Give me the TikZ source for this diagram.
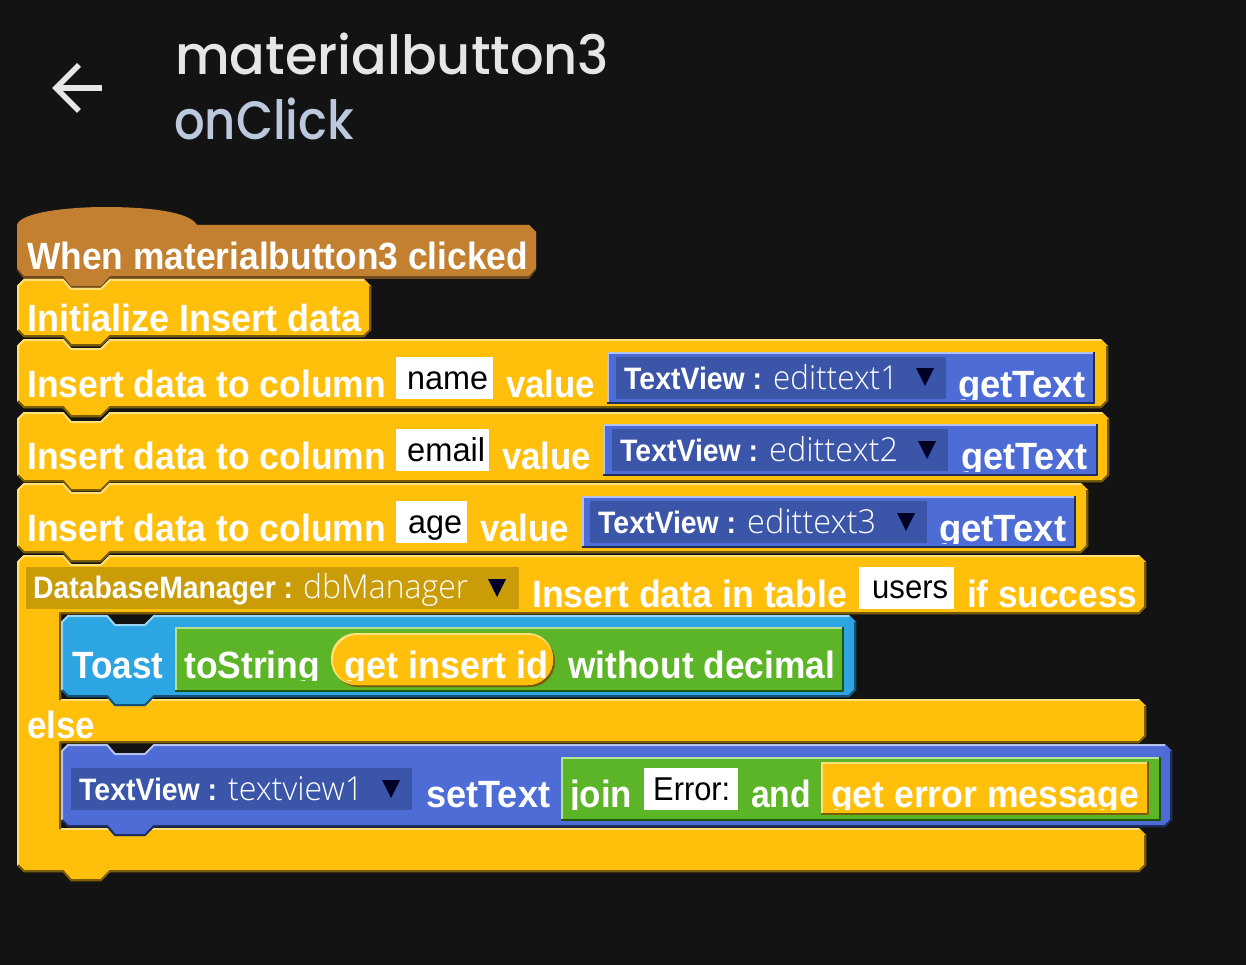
\documentclass[tikz,border=0pt]{standalone}
\usepackage{fontspec}
\setmainfont{Liberation Sans}
\newfontfamily\titlefont{Poppins}[UprightFont=* Medium]
\newfontfamily\thinfont{Open Sans}[UprightFont=* Light]
\definecolor{screenbg}{HTML}{131313}
\definecolor{titlegrey}{HTML}{E6E6E6}
\definecolor{subblue}{HTML}{BCC8DE}
\definecolor{orangefill}{HTML}{FFBF0A}
\definecolor{orangelight}{HTML}{FFE07A}
\definecolor{orangedark}{HTML}{7A5C05}
\definecolor{brownfill}{HTML}{C28030}
\definecolor{brownlight}{HTML}{C28030}
\definecolor{browndark}{HTML}{6E4A1C}
\definecolor{bluefill}{HTML}{4D6CD6}
\definecolor{bluelight}{HTML}{B5C2EE}
\definecolor{bluedark}{HTML}{1E2C5E}
\definecolor{bluedrop}{HTML}{3B55A8}
\definecolor{skyfill}{HTML}{2CA5E2}
\definecolor{skylight}{HTML}{9AD6F3}
\definecolor{skydark}{HTML}{14517A}
\definecolor{greenfill}{HTML}{5CB527}
\definecolor{greenlight}{HTML}{B4E09A}
\definecolor{greendark}{HTML}{1F5410}
\definecolor{golddrop}{HTML}{C99C08}
\tikzset{
  blocktext/.style={anchor=base west,inner sep=0pt,text=white,font=\fontsize{38}{40}\selectfont\bfseries},
  droptext/.style={anchor=base west,inner sep=0pt,text=white,font=\fontsize{31}{34}\selectfont},
  inputtext/.style={anchor=base west,inner sep=0pt,text=black,font=\fontsize{33}{36}\selectfont},
  lightedge/.style={line width=2pt,line join=round},
  darkedge/.style={line width=2pt,line join=round}
}
% palette, x0, y0, x1, y1
\newcommand{\stackblock}[5]{
  \fill[#1fill] ({#2+7},#3) -- ({#2+46},#3) -- ({#2+54},{#3+9}) -- ({#2+84},{#3+9}) -- ({#2+93},#3)
    -- ({#4-7},#3) -- (#4,{#3+7}) -- (#4,{#5-7}) -- ({#4-7},#5)
    -- ({#2+93},#5) -- ({#2+84},{#5+9}) -- ({#2+54},{#5+9}) -- ({#2+46},#5)
    -- ({#2+7},#5) -- (#2,{#5-7}) -- (#2,{#3+7}) -- cycle;
  \draw[#1light,lightedge] ({#2+1},{#5-7}) -- ({#2+1},{#3+7}) -- ({#2+7},{#3+1}) -- ({#2+46},{#3+1})
    -- ({#2+54},{#3+10}) -- ({#2+84},{#3+10}) -- ({#2+93},{#3+1}) -- ({#4-7},{#3+1});
  \draw[#1dark,darkedge] ({#4-1},{#3+7}) -- ({#4-1},{#5-7}) -- ({#4-7},{#5-1}) -- ({#2+93},{#5-1})
    -- ({#2+84},{#5+8}) -- ({#2+54},{#5+8}) -- ({#2+46},{#5-1}) -- ({#2+7},{#5-1}) -- ({#2+1},{#5-7});
}
\newcommand{\reporter}[5]{
  \fill[#1fill] (#2,#3) rectangle (#4,#5);
  \draw[#1light,lightedge] (#2+1,#5) -- (#2+1,#3+1) -- (#4,#3+1);
  \draw[#1dark,darkedge] (#4-1,#3) -- (#4-1,#5-1) -- (#2,#5-1);
}
% style, name, x, baseline, width, text
\newcommand{\blocklabel}[6][blocktext]{
  \node[#1] (#2) at (#3,#4) {\resizebox{#5pt}{\height}{#6}};
}
% same, with the descenders cut off 2px under the baseline
\newcommand{\cutlabel}[6][blocktext]{
  \begin{scope}
    \clip (#3-5,#4-40) rectangle (#3+#5+5,#4+2);
    \blocklabel[#1]{#2}{#3}{#4}{#5}{#6}
  \end{scope}
}
% name, x, baseline, bold width, bold text, gap, thin width, thin text
\newcommand{\droplabel}[8]{
  \node[droptext] (#1) at (#2,#3)
    {\resizebox{#4pt}{\height}{\bfseries #5}\hspace{#6pt}\resizebox{#7pt}{\height}{\thinfont\fontsize{33}{36}\selectfont #8}};
}
\newcommand{\dropmark}[2]{
  \fill[black!85!blue] (#1-9,#2) -- (#1+9,#2) -- (#1,#2+18) -- cycle;
}
\begin{document}
\begin{tikzpicture}[x=1pt,y=-1pt]
  \fill[screenbg] (0,0) rectangle (1246,965);
  \useasboundingbox (0,0) rectangle (1246,965);

  % header
  \coordinate (backtip) at (56,88);
  \coordinate (backtail) at (102,88);
  \draw[titlegrey,line width=5.5pt] (backtail) -- (backtip);
  \draw[titlegrey,line width=5.5pt] (79,65) -- (backtip) -- (79,111);
  \node[anchor=base west,inner sep=0pt,text=titlegrey,font=\titlefont\fontsize{54}{60}\selectfont] (title) at (175,75)
    {\resizebox{434pt}{\height}{materialbutton3}};
  \node[anchor=base west,inner sep=0pt,text=subblue,font=\titlefont\fontsize{54}{60}\selectfont] (subtitle) at (174,140)
    {\resizebox{180pt}{\height}{onClick}};

  % hat block
  \fill[browndark] (17,240) -- (17,270) -- (24,279) -- (63,279) -- (71,288) -- (101,288) -- (110,279) -- (529,279) -- (536,270) -- (536,232) -- (529,225) -- (196,225) -- cycle;
  \fill[brownfill] (17,225) .. controls (20,212) and (70,207) .. (105,207)
    .. controls (150,207) and (190,212) .. (197,225) -- (529,225) -- (536,232) -- (536,268) -- (529,276)
    -- (110,276) -- (101,286) -- (71,286) -- (63,276) -- (24,276) -- (17,268) -- cycle;
  \blocklabel{whenlabel}{27}{270}{501}{When materialbutton3 clicked}

  \stackblock{orange}{17}{279}{371}{337}
  \blocklabel{initlabel}{27}{331}{334}{Initialize Insert data}

  % the three insert rows
  \stackblock{orange}{17}{339}{1108}{408}
  \blocklabel{columnone}{27}{397}{359}{Insert data to column}
  \fill[white] (396,357) rectangle (493,399);
  \blocklabel[inputtext]{nameinput}{407}{389}{81}{name}
  \blocklabel{valueone}{506}{397}{89}{value}
  \reporter{blue}{607}{352}{1095}{404}
  \fill[bluedrop] (616,357) rectangle (946,399);
  \droplabel{viewone}{624}{389}{138}{TextView :}{11}{125}{edittext1}
  \dropmark{925}{368}
  \cutlabel{gettextone}{958}{397}{127}{getText}

  \stackblock{orange}{17}{412}{1109}{482}
  \blocklabel{columntwo}{27}{469}{359}{Insert data to column}
  \fill[white] (396,429) rectangle (489,471);
  \blocklabel[inputtext]{emailinput}{407}{461}{78}{email}
  \blocklabel{valuetwo}{502}{469}{89}{value}
  \reporter{blue}{603}{424}{1098}{476}
  \fill[bluedrop] (612,429) rectangle (948,471);
  \droplabel{viewtwo}{620}{461}{138}{TextView :}{11}{129}{edittext2}
  \dropmark{927}{441}
  \cutlabel{gettexttwo}{961}{469}{126}{getText}

  \stackblock{orange}{17}{483}{1088}{553}
  \blocklabel{columnthree}{27}{541}{359}{Insert data to column}
  \fill[white] (396,501) rectangle (467,543);
  \blocklabel[inputtext]{ageinput}{408}{533}{54}{age}
  \blocklabel{valuethree}{480}{541}{89}{value}
  \reporter{blue}{582}{496}{1076}{548}
  \fill[bluedrop] (590,501) rectangle (927,543);
  \droplabel{viewthree}{598}{533}{138}{TextView :}{11}{129}{edittext3}
  \dropmark{906}{513}
  \cutlabel{gettextthree}{939}{541}{127}{getText}

  % if / else block
  \fill[orangefill] (24,555) -- (63,555) -- (71,564) -- (101,564) -- (110,555) -- (1139,555) -- (1146,562) -- (1146,607)
    -- (1139,614) -- (61,614) -- (61,699) -- (1139,699) -- (1146,706) -- (1146,736) -- (1139,743) -- (61,743)
    -- (61,828) -- (1139,828) -- (1146,835) -- (1146,865) -- (1139,872) -- (110,872) -- (101,881) -- (71,881)
    -- (63,872) -- (24,872) -- (17,865) -- (17,562) -- cycle;
  \draw[orangelight,lightedge] (18,865) -- (18,562) -- (24,556) -- (63,556) -- (71,565) -- (101,565) -- (110,556) -- (1139,556);
  \draw[orangelight,lightedge] (61,700) -- (1139,700);
  \draw[orangelight,lightedge] (61,829) -- (1139,829);
  \draw[orangedark,darkedge] (1145,562) -- (1145,607) -- (1139,613) -- (60,613) -- (60,700);
  \draw[orangedark,darkedge] (1145,706) -- (1145,736) -- (1139,742) -- (60,742) -- (60,829);
  \draw[orangedark,darkedge] (1145,835) -- (1145,865) -- (1139,871) -- (110,871) -- (101,880) -- (71,880) -- (63,871) -- (24,871) -- (18,865);

  \fill[golddrop] (26,567) rectangle (519,609);
  \droplabel{managerlabel}{33}{598}{260}{DatabaseManager :}{10}{165}{dbManager}
  \dropmark{497}{579}
  \blocklabel{tablelabel}{532}{607}{315}{Insert data in table}
  \fill[white] (859,567) rectangle (954,609);
  \blocklabel[inputtext]{usersinput}{872}{598}{76}{users}
  \blocklabel{successlabel}{967}{607}{170}{if success}

  % toast
  \stackblock{sky}{61}{615}{856}{697}
  \blocklabel{toastlabel}{72}{678}{91}{Toast}
  \reporter{green}{175}{627}{844}{692}
  \cutlabel{stringlabel}{184}{678}{136}{toString}
  \fill[orangedark,rounded corners=25pt] (333,636) rectangle (555,687);
  \fill[orangelight,rounded corners=25pt] (331,633) rectangle (553,685);
  \fill[orangefill,rounded corners=25pt] (333,635) rectangle (553,685);
  \cutlabel{insertidlabel}{344}{678}{204}{get insert id}
  \blocklabel{decimallabel}{568}{678}{267}{without decimal}

  \blocklabel{elselabel}{27}{738}{68}{else}

  % setText
  \stackblock{blue}{61}{744}{1172}{827}
  \fill[bluedrop] (71,768) rectangle (412,810);
  \droplabel{viewfour}{79}{800}{138}{TextView :}{11}{135}{textview1}
  \dropmark{391}{780}
  \blocklabel{settextlabel}{426}{807}{124}{setText}
  \reporter{green}{561}{757}{1161}{821}
  \cutlabel{joinlabel}{570}{807}{62}{join}
  \fill[white] (644,768) rectangle (738,810);
  \blocklabel[inputtext]{errorinput}{653}{800}{77}{Error:}
  \blocklabel{andlabel}{751}{807}{60}{and}
  \reporter{orange}{821}{762}{1149}{815}
  \cutlabel{messagelabel}{831}{807}{308}{get error message}
\end{tikzpicture}
\end{document}
